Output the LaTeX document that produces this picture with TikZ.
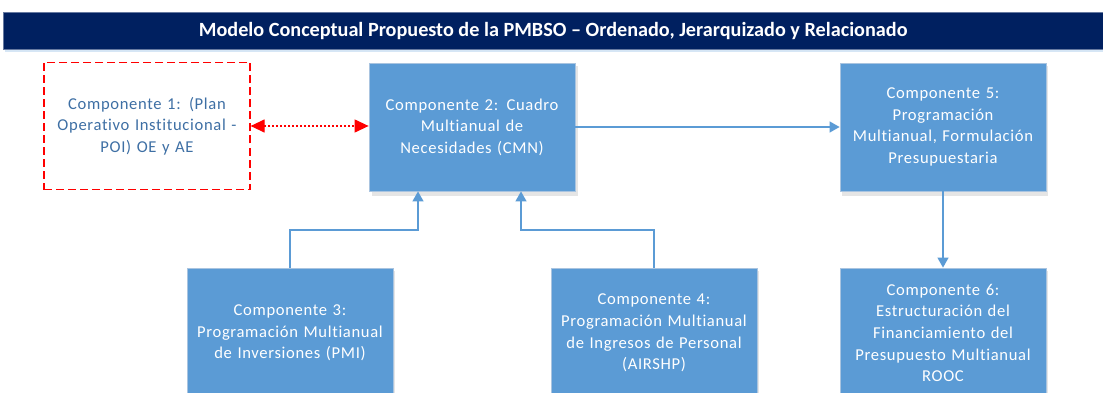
\documentclass[tikz,border=0pt]{standalone}
\usepackage{fontspec}
\setmainfont[Ligatures=NoCommon]{Carlito}
\newfontfamily\boxfont[LetterSpace=4,Ligatures=NoCommon]{Carlito}
\usetikzlibrary{arrows.meta}
\definecolor{navy}{HTML}{002060}
\definecolor{boxblue}{HTML}{5B9BD5}
\definecolor{boxedge}{HTML}{A9C4E0}
\definecolor{poitext}{HTML}{3E6FA4}
\definecolor{redd}{HTML}{FF0000}
\tikzset{
  comp/.style={draw=boxedge, line width=0.8pt, fill=boxblue, minimum width=206pt, minimum height=128pt,
    text width=204pt, align=center, text=white, font=\boxfont\fontsize{16.6}{21.6}\selectfont, inner sep=0pt},
  poi/.style={draw=redd, dash pattern=on 8pt off 4pt, line width=1.2pt, minimum width=206pt, minimum height=127pt,
    text width=204pt, align=center, text=poitext, font=\boxfont\fontsize{16.6}{21.6}\selectfont, inner sep=0pt},
  link/.style={draw=boxblue, line width=1.2pt, -{Triangle[length=10pt,width=11pt]}},
  redlink/.style={draw=redd, line width=1.2pt, dash pattern=on 2pt off 2pt, {Triangle[length=14pt,width=13pt]}-{Triangle[length=14pt,width=13pt]}},
  shade/.style={fill=black!10}
}
\begin{document}
\begin{tikzpicture}[x=1pt,y=-1pt]
\useasboundingbox (0,0) rectangle (1103,393);
\clip (0,0) rectangle (1103,393);
% title bar
\fill[boxblue!25] (5,14) rectangle (1103,52);
\node[fill=navy, draw=navy!60, minimum width=1100pt, minimum height=37pt, inner sep=0pt, anchor=north west,
  text=white, font=\bfseries\fontsize{20.2}{22}\selectfont] (title) at (3,12)
  {Modelo Conceptual Propuesto de la PMBSO -- Ordenado, Jerarquizado y Relacionado};
% shadows
\foreach \x/\y in {369/63, 839/63, 186/268, 550/268, 839/268}
  \fill[shade] (\x+3,\y+3) rectangle (\x+209,\y+133);
% boxes
\node[poi] (c1) at (147,126) {Componente 1: (Plan\\Operativo Institucional -\\POI) OE y AE};
\node[comp] (c2) at (472,127) {Componente 2: Cuadro\\Multianual de\\Necesidades (CMN)};
\node[comp] (c5) at (943,127) {Componente 5:\\Programación\\Multianual, Formulación\\Presupuestaria};
\node[comp, minimum height=130pt] (c3) at (290,333) {Componente 3:\\Programación Multianual\\de Inversiones (PMI)};
\node[comp, minimum height=130pt] (c4) at (654,333) {Componente 4:\\Programación Multianual\\de Ingresos de Personal\\(AIRSHP)};
\node[comp, minimum height=130pt] (c6) at (943,333) {Componente 6:\\Estructuración del\\Financiamiento del\\Presupuesto Multianual\\ROOC};
% connectors
\draw[redlink] (c1.east) -- (c2.west |- c1.east);
\draw[link] (c2.east) -- (c5.west);
\draw[link] (c5.south) -- (c6.north);
\coordinate (k3) at (290,230);
\coordinate (k4) at (654,230);
\draw[link] (c3.north) -- (k3) -- (418,230) -- (c2.south -| 418,0);
\draw[link] (c4.north) -- (k4) -- (521,230) -- (c2.south -| 521,0);
\end{tikzpicture}
\end{document}
